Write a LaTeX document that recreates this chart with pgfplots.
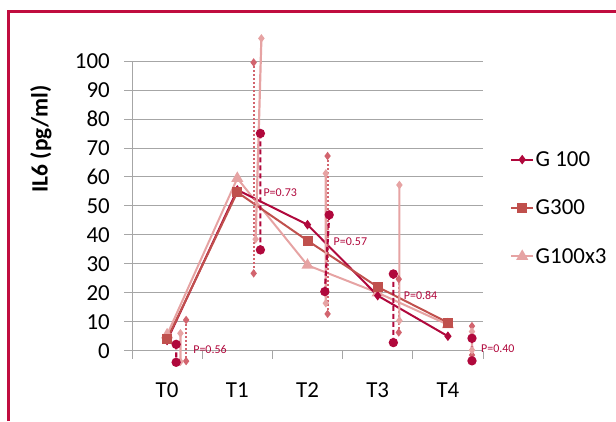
\documentclass[border=0pt]{standalone}
\usepackage{pgfplots}
\pgfplotsset{compat=1.18}
\usepackage{fontspec}
\setmainfont{Carlito}
\definecolor{cdark}{HTML}{B0083C}
\definecolor{cmed}{HTML}{C0504D}
\definecolor{cpink}{HTML}{E6A3A3}
\definecolor{cdot}{HTML}{D2646E}
\definecolor{cframe}{HTML}{C00D3F}
\definecolor{cgrid}{HTML}{A6A6A6}
\begin{document}
\begin{tikzpicture}[x=1bp,y=1bp]
\path[use as bounding box] (0,0) rectangle (616,421);
\draw[cframe, line width=3bp] (8,0) -- (8,409.5) -- (616,409.5);
\begin{axis}[
  at={(132bp,70.3bp)}, anchor=south west,
  scale only axis, width=351bp, height=289.7bp,
  xmin=-0.5, xmax=4.5, ymin=0, ymax=100,
  clip=false,
  axis lines*=left,
  axis line style={cgrid, line width=0.8bp},
  ymajorgrids, grid style={cgrid, line width=0.8bp},
  ytick={0,10,...,100},
  xtick={-0.5,0.5,...,4.5}, xticklabels={},
  extra x ticks={0,1,2,3,4},
  extra x tick labels={T0,T1,T2,T3,T4},
  extra x tick style={major tick length=0pt, grid=none,
     xticklabel style={anchor=north, inner sep=0pt, yshift=-32bp}},
  tick align=outside, major tick length=8bp,
  tick style={cgrid, line width=0.8bp},
  /pgf/number format/assume math mode=true,
  ticklabel style={font=\fontsize{23}{27}\selectfont},
  yticklabel style={anchor=east, inner sep=0pt, xshift=-14bp},
  ylabel={\textbf{IL6 (pg/ml)}},
  ylabel style={at={(rel axis cs:-0.2593,0.7308)}, anchor=center, font=\fontsize{23.5}{27}\selectfont},
  legend style={at={(1.077,0.4926)}, anchor=west, draw=none, fill=none,
     font=\fontsize{23}{27}\selectfont, row sep=29bp, inner sep=0pt,
     nodes={inner sep=1.5bp}},
  legend cell align=left,
  legend image code/.code={\draw[mark repeat=2,mark phase=2] plot coordinates {(0bp,0bp)(11bp,0bp)(22bp,0bp)};},
]
% main series
\addplot[cpink, line width=2bp, mark=triangle*, mark size=5bp, forget plot]
  coordinates {(0,5.5)(1,59.5)(2,29.5)(3,20)(4,9)};
\addplot[cdark, line width=2bp, mark=diamond*, mark size=3.2bp]
  coordinates {(0,3.5)(1,55.5)(2,43.5)(3,19)(4,5)};
\addlegendentry{G 100}
\addplot[cmed, line width=2bp, mark=square*, mark size=4bp]
  coordinates {(0,4)(1,54.7)(2,38)(3,22)(4,9.7)};
\addlegendentry{G300}
% ranges: dotted
\addplot[cdot, line width=2bp, dash pattern=on 2bp off 2bp, mark=diamond*, mark size=2.6bp, mark options={solid}, unbounded coords=jump, forget plot]
  coordinates {(0.271,10.6)(0.271,-3.6)(0.5,nan)
               (1.233,99.5)(1.233,26.7)(1.5,nan)
               (2.286,67.2)(2.286,12.7)(2.5,nan)
               (3.300,24.7)(3.300,6.3)(3.5,nan)
               (4.343,8.5)(4.343,-1.5)};
% ranges: pink solid
\addplot[cpink, line width=2.2bp, mark=diamond*, mark size=2.5bp, unbounded coords=jump, forget plot]
  coordinates {(0.190,6.0)(0.190,-3.8)(0.5,nan)
               (1.343,107.8)(1.261,38.5)(1.5,nan)
               (2.261,61.2)(2.261,16.4)(2.5,nan)
               (3.309,57.2)(3.309,10.4)(3.5,nan)
               (4.343,6.6)(4.343,0.2)};
% ranges: dark dashed
\addplot[cdark, line width=2.2bp, dash pattern=on 5bp off 3bp, mark=*, mark size=3.5bp, mark options={solid}, unbounded coords=jump, forget plot]
  coordinates {(0.129,2.2)(0.129,-4.0)(0.5,nan)
               (1.329,75.0)(1.329,34.8)(1.5,nan)
               (2.309,46.9)(2.247,20.4)(2.5,nan)
               (3.223,26.5)(3.223,2.8)(3.5,nan)
               (4.343,4.3)(4.343,-3.5)};
\addlegendimage{cpink, line width=2bp, mark=triangle*, mark size=5bp}
\addlegendentry{G100x3}
% P labels
\begin{scope}[every node/.style={anchor=west, inner sep=0pt, text=cdark, font=\fontsize{12}{14}\selectfont}]
\node at (axis cs:0.371,0.25) {P=0.56};
\node at (axis cs:1.371,54.4) {P=0.73};
\node at (axis cs:2.371,37.5) {P=0.57};
\node at (axis cs:3.371,19.2) {P=0.84};
\node at (axis cs:4.471,0.6) {P=0.40};
\end{scope}
\end{axis}
\end{tikzpicture}
\end{document}
